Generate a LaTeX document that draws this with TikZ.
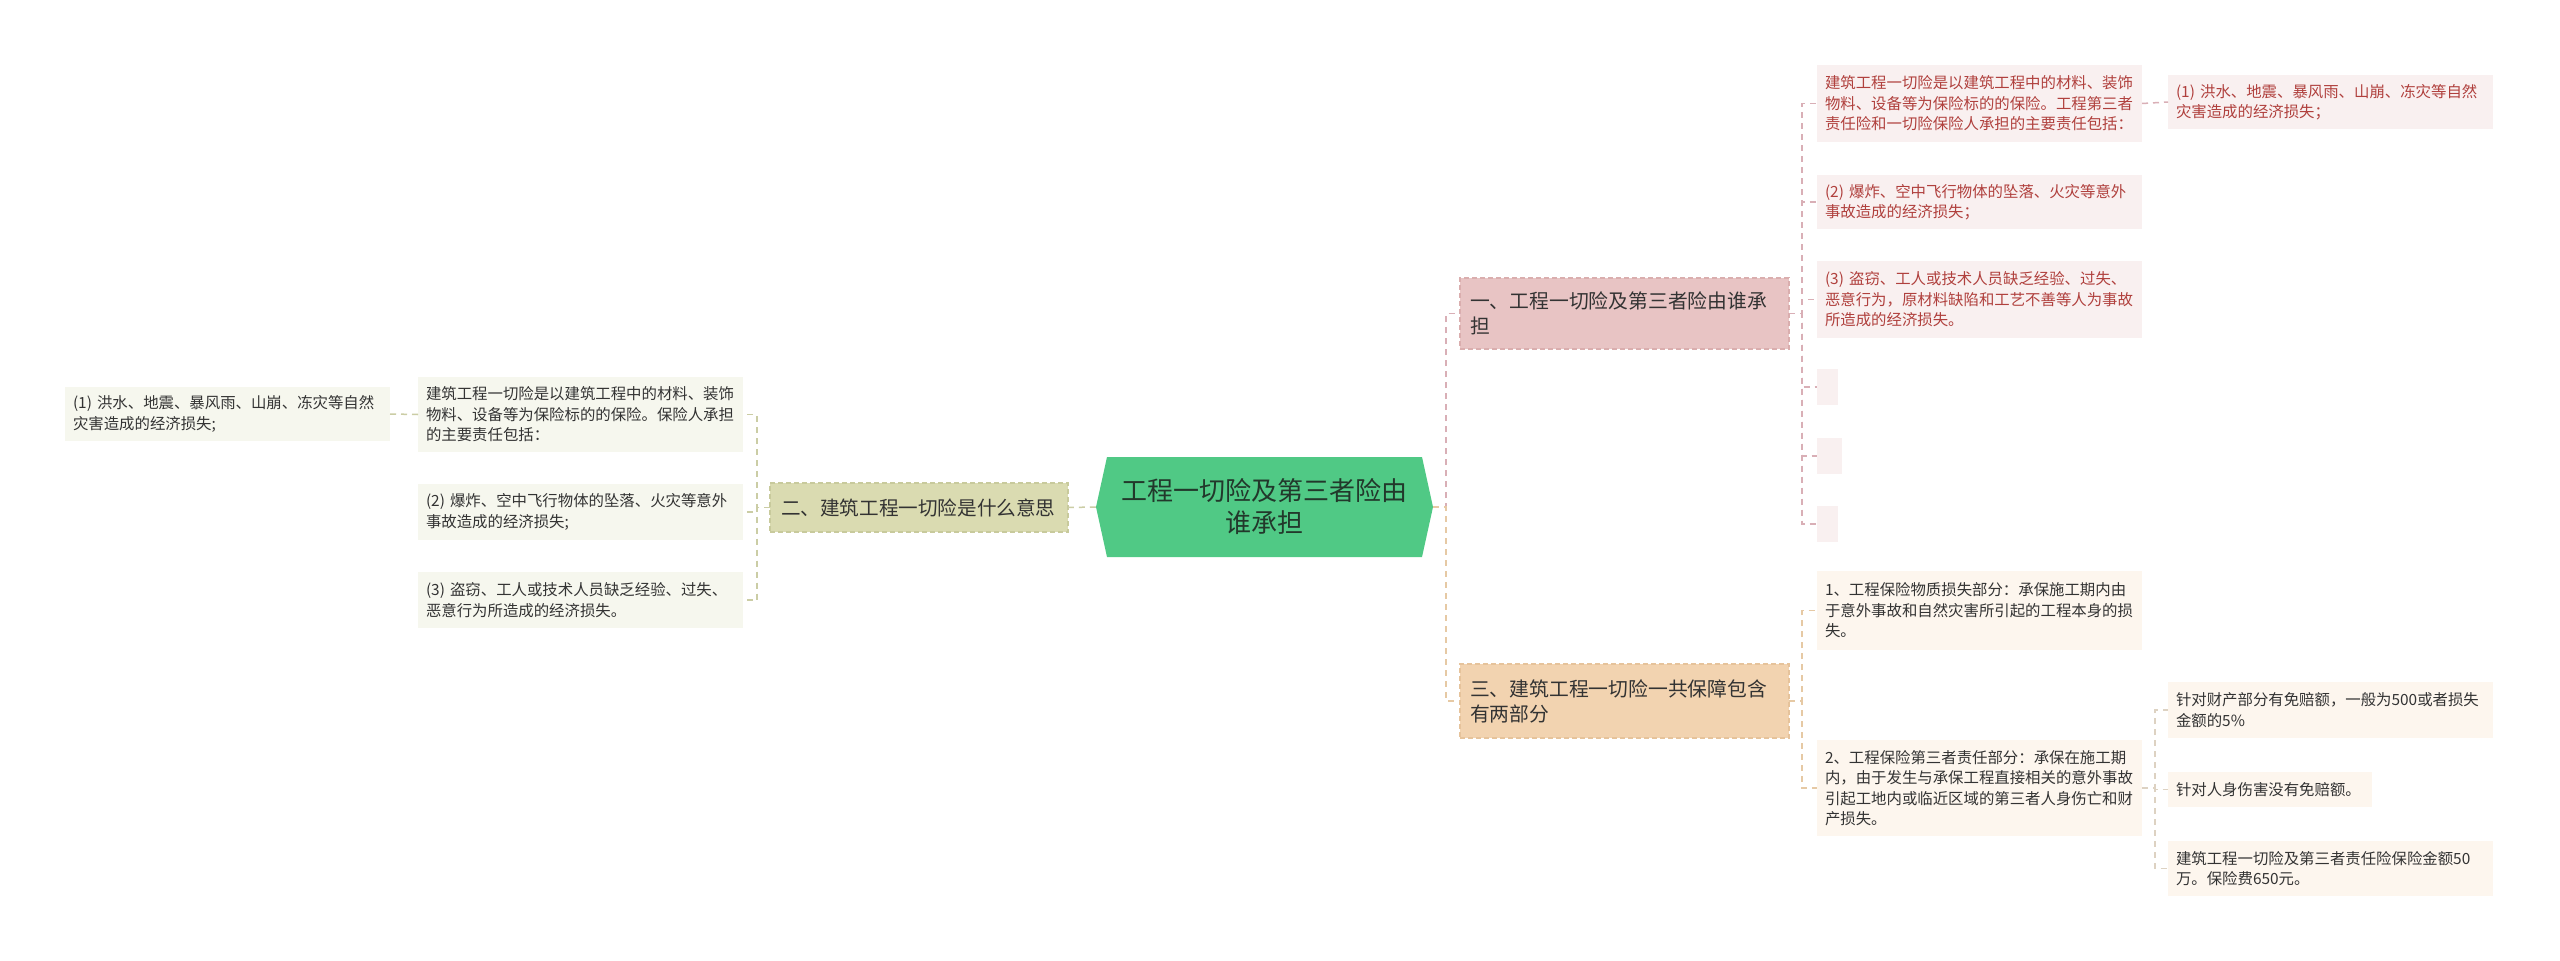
\documentclass[tikz,border=0pt]{standalone}
\usepackage{fontspec}
\setmainfont{Noto Sans CJK SC}
\definecolor{cgreen}{HTML}{50C985}
\definecolor{ctext}{HTML}{22382B}
\definecolor{dtext}{HTML}{333333}
\definecolor{rtext}{HTML}{B0403D}
\definecolor{bpink}{HTML}{E8C4C4}
\definecolor{bpinkd}{HTML}{DAAEAE}
\definecolor{bolive}{HTML}{DADBB1}
\definecolor{bolived}{HTML}{C8CA9C}
\definecolor{btan}{HTML}{F2D3B0}
\definecolor{btand}{HTML}{E6C39B}
\definecolor{lpink}{HTML}{F9F0F0}
\definecolor{lolive}{HTML}{F6F7EE}
\definecolor{ltan}{HTML}{FDF6EE}
\definecolor{kpink}{HTML}{D9AFB6}
\definecolor{kolive}{HTML}{CBCDA5}
\definecolor{ktan}{HTML}{E6C9A4}
\definecolor{ktang}{HTML}{DDD2C2}
\tikzset{
  base/.style={anchor=north west, inner ysep=0pt, outer sep=0pt, align=left},
  branchbox/.style={base, inner xsep=10pt, text width=309pt, text=dtext,
    font=\fontsize{19.8}{25}\selectfont, dashed, dash pattern=on 5pt off 3pt, line width=1.2pt},
  leafbox/.style={base, inner xsep=8pt, text width=309pt,
    font=\fontsize{15.4}{20.5}\selectfont},
  pinkleaf/.style={leafbox, fill=lpink, text=rtext},
  oliveleaf/.style={leafbox, fill=lolive, text=dtext},
  tanleaf/.style={leafbox, fill=ltan, text=dtext},
  conn/.style={line width=1.5pt, dash pattern=on 6pt off 5pt},
}
\begin{document}
\begin{tikzpicture}[x=1pt,y=-1pt]
\useasboundingbox (0,0) rectangle (2560,961);
\fill[white] (0,0) rectangle (2560,961);

% central node
\node[inner sep=0pt, minimum width=337pt, minimum height=100pt] (c) at (1264.5,507) {};
\fill[cgreen] (1096,507) -- (1107,457) -- (1422,457) -- (1433,507) -- (1422,557) -- (1107,557) -- cycle;
\node[align=center, text=ctext, font=\fontsize{26}{32}\selectfont, inner sep=0pt] at (c.center) {工程一切险及第三者险由\\谁承担};

% branches
\node[branchbox, fill=bpink, draw=bpinkd, minimum height=71pt] (b1) at (1460,278) {一、工程一切险及第三者险由谁承\\担};
\node[branchbox, fill=bolive, draw=bolived, inner xsep=11pt, text width=276pt, font=\fontsize{19.6}{25}\selectfont, minimum height=49pt] (b2) at (770,483) {二、建筑工程一切险是什么意思};
\node[branchbox, fill=btan, draw=btand, minimum height=74pt] (b3) at (1460,664) {三、建筑工程一切险一共保障包含\\有两部分};

% branch 1 leaves
\node[pinkleaf, minimum height=77pt] (p1) at (1817,65) {建筑工程一切险是以建筑工程中的材料、装饰\\物料、设备等为保险标的的保险。工程第三者\\责任险和一切险保险人承担的主要责任包括：};
\node[pinkleaf, minimum height=54pt] (p1a) at (2168,75) {(1) 洪水、地震、暴风雨、山崩、冻灾等自然\\灾害造成的经济损失；};
\node[pinkleaf, minimum height=54pt] (p2) at (1817,175) {(2) 爆炸、空中飞行物体的坠落、火灾等意外\\事故造成的经济损失；};
\node[pinkleaf, minimum height=77pt] (p3) at (1817,261) {(3) 盗窃、工人或技术人员缺乏经验、过失、\\恶意行为，原材料缺陷和工艺不善等人为事故\\所造成的经济损失。};
\node[base, fill=lpink, minimum width=21pt, minimum height=36pt, inner xsep=0pt] (p4) at (1817,369) {};
\node[base, fill=lpink, minimum width=25pt, minimum height=36pt, inner xsep=0pt] (p5) at (1817,438) {};
\node[base, fill=lpink, minimum width=21pt, minimum height=36pt, inner xsep=0pt] (p6) at (1817,506) {};

% branch 2 leaves
\node[oliveleaf, minimum height=75pt] (o1) at (418,377) {建筑工程一切险是以建筑工程中的材料、装饰\\物料、设备等为保险标的的保险。保险人承担\\的主要责任包括：};
\node[oliveleaf, minimum height=54pt] (o1a) at (65,387) {(1) 洪水、地震、暴风雨、山崩、冻灾等自然\\灾害造成的经济损失;};
\node[oliveleaf, minimum height=56pt] (o2) at (418,484) {(2) 爆炸、空中飞行物体的坠落、火灾等意外\\事故造成的经济损失;};
\node[oliveleaf, minimum height=56pt] (o3) at (418,572) {(3) 盗窃、工人或技术人员缺乏经验、过失、\\恶意行为所造成的经济损失。};

% branch 3 leaves
\node[tanleaf, minimum height=79pt] (t1) at (1817,571) {1、工程保险物质损失部分：承保施工期内由\\于意外事故和自然灾害所引起的工程本身的损\\失。};
\node[tanleaf, minimum height=96pt] (t2) at (1817,740) {2、工程保险第三者责任部分：承保在施工期\\内，由于发生与承保工程直接相关的意外事故\\引起工地内或临近区域的第三者人身伤亡和财\\产损失。};
\node[tanleaf, minimum height=56pt] (t2a) at (2168,682) {针对财产部分有免赔额，一般为500或者损失\\金额的5\%};
\node[tanleaf, text width=188pt, minimum height=35pt] (t2b) at (2168,772) {针对人身伤害没有免赔额。};
\node[tanleaf, minimum height=55pt] (t2c) at (2168,841) {建筑工程一切险及第三者责任险保险金额50\\万。保险费650元。};

% connectors: center to branches
\draw[conn, draw=kpink] (c.east) -- ++(13,0) |- (b1.west);
\draw[conn, draw=ktan] (c.east) -- ++(13,0) |- (b3.west);
\draw[conn, draw=kolive] (c.west) -- (b2.east);

% branch 1 children
\foreach \n in {p1,p2,p3,p4,p5,p6}{
  \draw[conn, draw=kpink] (b1.east) -- ++(13,0) |- (\n.west);
}
\draw[conn, draw=kpink] (p1.east) -- (p1a.west);

% branch 2 children
\foreach \n in {o1,o2,o3}{
  \draw[conn, draw=kolive] (b2.west) -- ++(-13,0) |- (\n.east);
}
\draw[conn, draw=kolive] (o1.west) -- (o1a.east);

% branch 3 children
\foreach \n in {t1,t2}{
  \draw[conn, draw=ktan] (b3.east) -- ++(13,0) |- (\n.west);
}
\foreach \n in {t2a,t2b,t2c}{
  \draw[conn, draw=ktang] (t2.east) -- ++(13,0) |- (\n.west);
}
\end{tikzpicture}
\end{document}
